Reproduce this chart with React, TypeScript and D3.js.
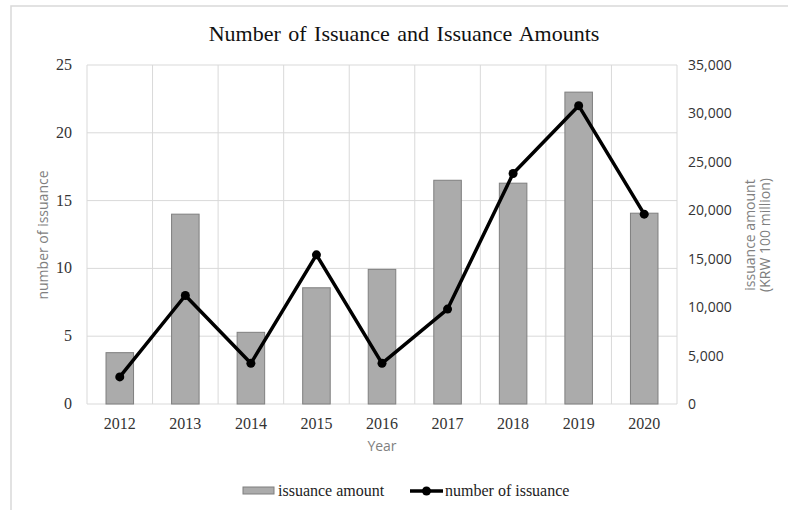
import React from "react";
import * as d3 from "d3";

const years = ["2012", "2013", "2014", "2015", "2016", "2017", "2018", "2019", "2020"];
const issuanceAmount = [5300, 19600, 7400, 12000, 13900, 23100, 22800, 32200, 19700];
const issuanceCount = [2, 8, 3, 11, 3, 7, 17, 22, 14];
const leftTicks = [0, 5, 10, 15, 20, 25];
const rightTicks = [0, 5000, 10000, 15000, 20000, 25000, 30000, 35000];

const W = 788;
const H = 510;
const serif = "'Liberation Serif', 'Times New Roman', serif";
const sans = "'Open Sans', 'Noto Sans', sans-serif";

export default function App() {
  const left = 87, right = 677, top = 65, bottom = 404;
  const x = d3.scaleBand<string>().domain(years).range([left, right]).paddingInner(0).paddingOuter(0);
  const yL = d3.scaleLinear().domain([0, 25]).range([bottom, top]);
  const yR = d3.scaleLinear().domain([0, 35000]).range([bottom, top]);
  const bw = x.bandwidth() * 0.42;
  const cx = (d: string) => (x(d) as number) + x.bandwidth() / 2;
  const line = d3.line<number>().x((_, i) => cx(years[i])).y((d) => yL(d));
  const fmt = d3.format(",");
  const grid = "#d9d9d9";
  const boundaries = years.map((y) => x(y) as number).concat([right]);

  return (
    <svg width={W} height={H} style={{ position: "absolute", left: 0, top: 0 }}>
      <rect x={0} y={0} width={W} height={H} fill="#fff" />
      <rect x={11} y={6} width={W + 20} height={H + 20} fill="#fff" stroke="#d9d9d9" strokeWidth={1.5} />
      <text x={404} y={41} textAnchor="middle" fontFamily={serif} fontSize={22} fill="#111" wordSpacing={2}>
        Number of Issuance and Issuance Amounts
      </text>
      {leftTicks.map((t) => (
        <line key={"h" + t} x1={left} x2={right} y1={yL(t)} y2={yL(t)} stroke={grid} strokeWidth={1} />
      ))}
      {boundaries.map((b, i) => (
        <line key={"v" + i} x1={b} x2={b} y1={top} y2={bottom} stroke={grid} strokeWidth={1} />
      ))}
      {years.map((yr, i) => (
        <rect
          key={"b" + yr}
          x={cx(yr) - bw / 2}
          y={yR(issuanceAmount[i])}
          width={bw}
          height={bottom - yR(issuanceAmount[i])}
          fill="#ababab"
          stroke="#7f7f7f"
          strokeWidth={1}
        />
      ))}
      <path d={line(issuanceCount) as string} fill="none" stroke="#000" strokeWidth={3.5} strokeLinejoin="round" />
      {issuanceCount.map((v, i) => (
        <circle key={"c" + i} cx={cx(years[i])} cy={yL(v)} r={4.5} fill="#000" />
      ))}
      {leftTicks.map((t) => (
        <text key={"lt" + t} x={72} y={yL(t) + 5} textAnchor="end" fontFamily={serif} fontSize={16} fill="#333">
          {t}
        </text>
      ))}
      {rightTicks.map((t) => (
        <text key={"rt" + t} x={688} y={yR(t) + 5} textAnchor="start" fontFamily={sans} fontSize={14} fill="#333">
          {fmt(t)}
        </text>
      ))}
      {years.map((yr) => (
        <text key={"xt" + yr} x={cx(yr)} y={429} textAnchor="middle" fontFamily={serif} fontSize={16} fill="#333">
          {yr}
        </text>
      ))}
      <text x={382} y={451} textAnchor="middle" fontFamily={sans} fontSize={14} fill="#7f7f7f">Year</text>
      <text transform={`translate(48,${235}) rotate(-90)`} textAnchor="middle" fontFamily={sans} fontSize={14} fill="#7f7f7f">
        number of issuance
      </text>
      <text transform={`translate(755,${235}) rotate(-90)`} textAnchor="middle" fontFamily={sans} fontSize={14} fill="#7f7f7f">
        issuance amount
      </text>
      <text transform={`translate(770,${235}) rotate(-90)`} textAnchor="middle" fontFamily={sans} fontSize={14} fill="#7f7f7f">
        (KRW 100 million)
      </text>
      <rect x={243} y={487} width={31} height={7} fill="#ababab" stroke="#7f7f7f" strokeWidth={1} />
      <text x={278} y={496} fontFamily={serif} fontSize={16} fill="#222">issuance amount</text>
      <line x1={410} x2={443} y1={491} y2={491} stroke="#000" strokeWidth={3.5} />
      <circle cx={426.5} cy={491} r={4.5} fill="#000" />
      <text x={445} y={496} fontFamily={serif} fontSize={16} fill="#222">number of issuance</text>
    </svg>
  );
}
